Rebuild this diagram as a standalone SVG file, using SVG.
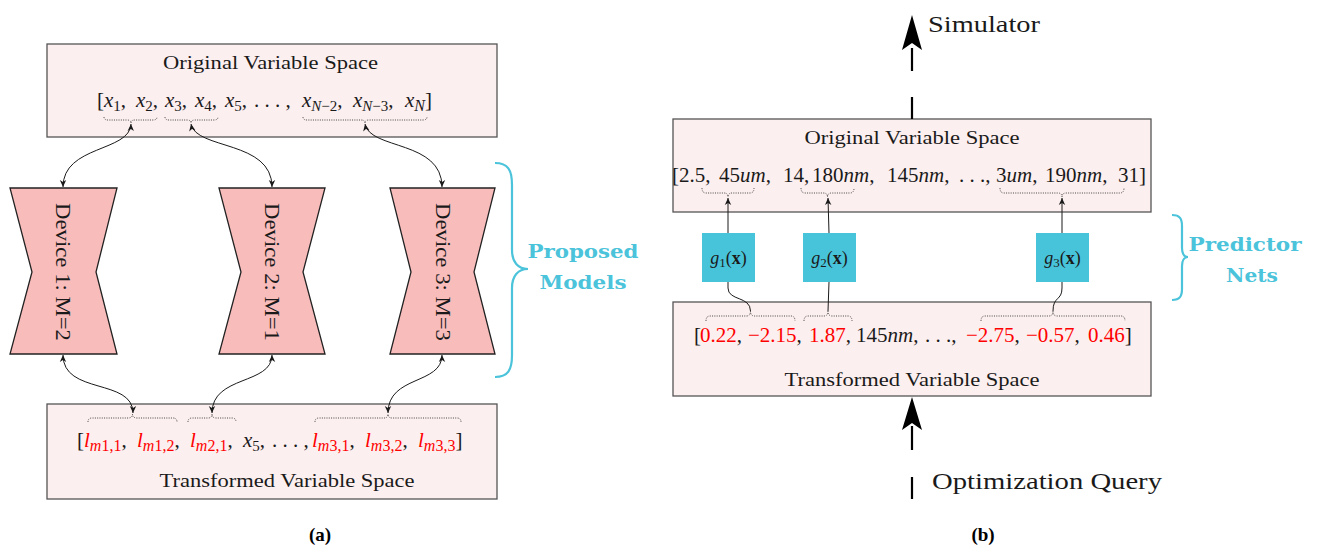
<svg xmlns="http://www.w3.org/2000/svg" width="1317" height="550" viewBox="0 0 1317 550">
<defs>
<style>
.t{font-family:"Liberation Serif","DejaVu Serif",serif;fill:#1a1a1a}
.v{font-size:21px}
.s{font-size:15px}
.sl{font-size:16px}
.i{font-style:italic}
.r{fill:#ff0000}
.bx{fill:#fcefef;stroke:#555;stroke-width:1.3}
.dev{fill:#f8bcbb;stroke:#222;stroke-width:1.3}
.br{fill:none;stroke:#333;stroke-width:0.9;stroke-dasharray:1 1.3}
.cn{fill:none;stroke:#1a1a1a;stroke-width:1}
.cyb{fill:none;stroke:#4bc3da;stroke-width:2.2}
.lab{font-family:"DejaVu Serif",serif;font-weight:bold;fill:#4bc3da;font-size:19px}
.gb{fill:#48c4da}
.big{fill:none;stroke:#000;stroke-width:2.2}
.cap{font-family:"Liberation Serif",serif;font-weight:bold;font-size:19px;fill:#000}
</style>
<marker id="ah" viewBox="-8 -4 9 8" refX="0" refY="0" markerWidth="9" markerHeight="8" markerUnits="userSpaceOnUse" orient="auto-start-reverse">
<path d="M0,0 L-7,-3.2 L-5,0 L-7,3.2 z" fill="#1a1a1a"/>
</marker>
</defs>
<rect width="1317" height="550" fill="#fff"/>

<g id="orig-a">
<rect class="bx" x="47" y="44" width="450" height="93"/>
<text class="t" x="270.5" y="69" font-size="19" text-anchor="middle" textLength="215" lengthAdjust="spacingAndGlyphs">Original Variable Space</text>
<text class="t v" y="107">
<tspan x="97">[</tspan>
<tspan x="104" class="i">x</tspan><tspan class="s" dy="4">1</tspan><tspan dy="-4">,</tspan>
<tspan x="136" class="i">x</tspan><tspan class="s" dy="4">2</tspan><tspan dy="-4">,</tspan>
<tspan x="165" class="i">x</tspan><tspan class="s" dy="4">3</tspan><tspan dy="-4">,</tspan>
<tspan x="195" class="i">x</tspan><tspan class="s" dy="4">4</tspan><tspan dy="-4">,</tspan>
<tspan x="225" class="i">x</tspan><tspan class="s" dy="4">5</tspan><tspan dy="-4">,</tspan>
<tspan x="254">. . . ,</tspan>
<tspan x="302" class="i">x</tspan><tspan class="s" dy="4"><tspan class="i">N</tspan>−2</tspan><tspan dy="-4">,</tspan>
<tspan x="353" class="i">x</tspan><tspan class="s" dy="4"><tspan class="i">N</tspan>−3</tspan><tspan dy="-4">,</tspan>
<tspan x="405" class="i">x</tspan><tspan class="sl i" dy="4">N</tspan><tspan dy="-4">]</tspan>
</text>
<path class="br" d="M104,117 Q104,120 108,120 L127,120 Q131,120 131,123 Q131,120 135,120 L153,120 Q157,120 157,117"/>
<path class="br" d="M165,117 Q165,120 169,120 L187,120 Q191,120 191,123 Q191,120 195,120 L214,120 Q218,120 218,117"/>
<path class="br" d="M303,117 Q303,120 307,120 L361,120 Q365,120 365,123 Q365,120 369,120 L423,120 Q427,120 427,117"/>
</g>

<g id="device1">
<polygon class="dev" points="10,188 117,188 96,272 117,354 10,354 32,272"/>
<text class="t" font-size="20" text-anchor="middle" transform="translate(56,272) rotate(90)" textLength="138" lengthAdjust="spacingAndGlyphs">Device 1: M=2</text>
</g>
<g id="device2">
<polygon class="dev" points="219,188 325,188 303,272 325,354 219,354 241,272"/>
<text class="t" font-size="20" text-anchor="middle" transform="translate(265,272) rotate(90)" textLength="138" lengthAdjust="spacingAndGlyphs">Device 2: M=1</text>
</g>
<g id="device3">
<polygon class="dev" points="390,188 495,188 474,272 495,354 390,354 411,272"/>
<text class="t" font-size="20" text-anchor="middle" transform="translate(436,272) rotate(90)" textLength="138" lengthAdjust="spacingAndGlyphs">Device 3: M=3</text>
</g>

<g id="trans-a">
<rect class="bx" x="47" y="404" width="450" height="95"/>
<text class="t v" y="447">
<tspan x="77">[</tspan>
<tspan x="84" class="i r">l</tspan><tspan class="sl r" dy="4"><tspan class="i">m</tspan>1,1</tspan><tspan dy="-4">,</tspan>
<tspan x="137" class="i r">l</tspan><tspan class="sl r" dy="4"><tspan class="i">m</tspan>1,2</tspan><tspan dy="-4">,</tspan>
<tspan x="190" class="i r">l</tspan><tspan class="sl r" dy="4"><tspan class="i">m</tspan>2,1</tspan><tspan dy="-4">,</tspan>
<tspan x="243" class="i">x</tspan><tspan class="s" dy="4">5</tspan><tspan dy="-4">,</tspan>
<tspan x="272">. . . ,</tspan>
<tspan x="312" class="i r">l</tspan><tspan class="sl r" dy="4"><tspan class="i">m</tspan>3,1</tspan><tspan dy="-4">,</tspan>
<tspan x="365" class="i r">l</tspan><tspan class="sl r" dy="4"><tspan class="i">m</tspan>3,2</tspan><tspan dy="-4">,</tspan>
<tspan x="418" class="i r">l</tspan><tspan class="sl r" dy="4"><tspan class="i">m</tspan>3,3</tspan><tspan dy="-4">]</tspan>
</text>
<text class="t" x="287" y="487" font-size="19" text-anchor="middle" textLength="255" lengthAdjust="spacingAndGlyphs">Transformed Variable Space</text>
<path class="br" d="M88,422 Q88,418 92,418 L128,418 Q132.5,418 132.5,414 Q132.5,418 137,418 L173,418 Q177,418 177,422"/>
<path class="br" d="M188,422 Q188,418 192,418 L208,418 Q212,418 212,414 Q212,418 216,418 L232,418 Q236,418 236,422"/>
<path class="br" d="M315,422 Q315,418 319,418 L384,418 Q388,418 388,414 Q388,418 392,418 L457,418 Q461,418 461,422"/>
</g>

<g id="label-proposed">
<path class="cyb" d="M495,163 C508,163 512,170 512,185 L512,250 C512,262 518,269 528,269 C518,269 512,276 512,288 L512,355 C512,370 508,377 495,377"/>
<text class="lab" x="583" y="258" text-anchor="middle" textLength="111" lengthAdjust="spacingAndGlyphs">Proposed</text>
<text class="lab" x="583" y="289" text-anchor="middle" textLength="87" lengthAdjust="spacingAndGlyphs">Models</text>
</g>

<g id="simulator">
<text class="t" x="928" y="32" font-size="24" textLength="112" lengthAdjust="spacingAndGlyphs">Simulator</text>
</g>

<g id="orig-b">
<rect class="bx" x="673" y="119" width="478" height="93"/>
<text class="t" x="912" y="144" font-size="19" text-anchor="middle" textLength="215" lengthAdjust="spacingAndGlyphs">Original Variable Space</text>
<text class="t v" y="182">
<tspan x="672">[</tspan><tspan x="679">2.5,</tspan>
<tspan x="719">45</tspan><tspan class="i">um</tspan><tspan>,</tspan>
<tspan x="783">14,</tspan>
<tspan x="812">180</tspan><tspan class="i">nm</tspan><tspan>,</tspan>
<tspan x="887">145</tspan><tspan class="i">nm</tspan><tspan>,</tspan>
<tspan x="959">. . .,</tspan>
<tspan x="996">3</tspan><tspan class="i">um</tspan><tspan>,</tspan>
<tspan x="1045">190</tspan><tspan class="i">nm</tspan><tspan>,</tspan>
<tspan x="1118">31]</tspan>
</text>
<path class="br" d="M702,188 Q702,193 706,193 L724,193 Q728,193 728,197 Q728,193 732,193 L750,193 Q754,193 754,188"/>
<path class="br" d="M801,188 Q801,193 805,193 L823.5,193 Q827.5,193 827.5,197 Q827.5,193 831.5,193 L850,193 Q854,193 854,188"/>
<path class="br" d="M1000,188 Q1000,193 1004,193 L1058,193 Q1062,193 1062,197 Q1062,193 1066,193 L1120,193 Q1124,193 1124,188"/>
</g>

<g id="g1">
<rect class="gb" x="702" y="233" width="53" height="49"/>
<text class="t" x="728.5" y="264" font-size="18" text-anchor="middle"><tspan class="i">g</tspan><tspan font-size="13" dy="3">1</tspan><tspan dy="-3">(</tspan><tspan font-weight="bold">x</tspan>)</text>
</g>
<g id="g2">
<rect class="gb" x="803" y="233" width="53" height="49"/>
<text class="t" x="829.5" y="264" font-size="18" text-anchor="middle"><tspan class="i">g</tspan><tspan font-size="13" dy="3">2</tspan><tspan dy="-3">(</tspan><tspan font-weight="bold">x</tspan>)</text>
</g>
<g id="g3">
<rect class="gb" x="1036" y="233" width="53" height="49"/>
<text class="t" x="1062.5" y="264" font-size="18" text-anchor="middle"><tspan class="i">g</tspan><tspan font-size="13" dy="3">3</tspan><tspan dy="-3">(</tspan><tspan font-weight="bold">x</tspan>)</text>
</g>

<g id="label-predictor">
<path class="cyb" d="M1172,215 C1180,215 1182,219 1182,226 L1182,248 C1182,253 1184,257 1188,257 C1184,257 1182,261 1182,266 L1182,289 C1182,296 1180,300 1172,300"/>
<text class="lab" x="1245" y="251" text-anchor="middle" textLength="113" lengthAdjust="spacingAndGlyphs">Predictor</text>
<text class="lab" x="1252" y="282" text-anchor="middle" textLength="52" lengthAdjust="spacingAndGlyphs">Nets</text>
</g>

<g id="trans-b">
<rect class="bx" x="673" y="302" width="478" height="94"/>
<text class="t v" y="342">
<tspan x="694">[</tspan>
<tspan x="700" class="r">0.22</tspan><tspan>,</tspan>
<tspan x="748" class="r">−2.15</tspan><tspan>,</tspan>
<tspan x="809" class="r">1.87</tspan><tspan>,</tspan>
<tspan x="856">145</tspan><tspan class="i">nm</tspan><tspan>,</tspan>
<tspan x="925">. . .,</tspan>
<tspan x="966" class="r">−2.75</tspan><tspan>,</tspan>
<tspan x="1026" class="r">−0.57</tspan><tspan>,</tspan>
<tspan x="1088" class="r">0.46</tspan><tspan>]</tspan>
</text>
<text class="t" x="912" y="386" font-size="19" text-anchor="middle" textLength="255" lengthAdjust="spacingAndGlyphs">Transformed Variable Space</text>
<path class="br" d="M706,321 Q706,316 710,316 L746.5,316 Q750.5,316 750.5,311 Q750.5,316 754.5,316 L791,316 Q795,316 795,321"/>
<path class="br" d="M804,321 Q804,316 808,316 L824,316 Q828,316 828,311 Q828,316 832,316 L848,316 Q852,316 852,321"/>
<path class="br" d="M981,321 Q981,316 985,316 L1049,316 Q1053,316 1053,311 Q1053,316 1057,316 L1121,316 Q1125,316 1125,321"/>
</g>

<g id="query">
<text class="t" x="932" y="489" font-size="24" textLength="230" lengthAdjust="spacingAndGlyphs">Optimization Query</text>
</g>

<g id="connectors">
<path class="cn" d="M131,124 C130,152 63,145 63,187" marker-start="url(#ah)" marker-end="url(#ah)"/>
<path class="cn" d="M191,124 C196,150 272,140 272,187" marker-start="url(#ah)" marker-end="url(#ah)"/>
<path class="cn" d="M365,124 C370,150 442,140 442,187" marker-start="url(#ah)" marker-end="url(#ah)"/>
<path class="cn" d="M63,355 C63,395 133,378 133,413" marker-start="url(#ah)" marker-end="url(#ah)"/>
<path class="cn" d="M272,355 C272,385 212,375 212,413" marker-start="url(#ah)" marker-end="url(#ah)"/>
<path class="cn" d="M442,355 C442,385 388,375 388,413" marker-start="url(#ah)" marker-end="url(#ah)"/>
<path class="cn" d="M728,233 L728,198" marker-end="url(#ah)"/>
<path class="cn" d="M829,233 L828,198" marker-end="url(#ah)"/>
<path class="cn" d="M1062,233 L1062,198" marker-end="url(#ah)"/>
<path class="cn" d="M728,282 L728,288 C728,301 750.5,296 750.5,311"/>
<path class="cn" d="M829,282 L828,311"/>
<path class="cn" d="M1062,282 L1062,288 C1062,301 1053,296 1053,311"/>
<path class="big" d="M912,97 L912,119 M912,48 L912,71"/>
<polygon points="912,15 922,50 912,43 902,50" fill="#000"/>
<path class="big" d="M912,426 L912,450 M912,477 L912,499"/>
<polygon points="912,397 922,430 912,423 902,430" fill="#000"/>
</g>

<text class="cap" x="320" y="541" text-anchor="middle">(a)</text>
<text class="cap" x="983" y="541" text-anchor="middle">(b)</text>
</svg>
